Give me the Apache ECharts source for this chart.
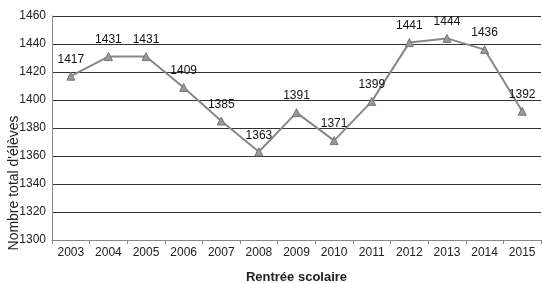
<!DOCTYPE html>
<html>
<head>
<meta charset="utf-8">
<script src="https://cdn.jsdelivr.net/npm/echarts@6/dist/echarts.min.js"></script>
<style>
  html, body { margin: 0; padding: 0; background: #fff; }
  #chart { width: 542px; height: 283px; }
</style>
</head>
<body>
<div id="chart"></div>
<script>
// Rentrée scolaire -> nombre total d'élèves
const years = ['2003', '2004', '2005', '2006', '2007', '2008', '2009', '2010', '2011', '2012', '2013', '2014', '2015']
const eleves = [1417, 1431, 1431, 1409, 1385, 1363, 1391, 1371, 1399, 1441, 1444, 1436, 1392]

const chart = echarts.init(document.getElementById('chart'))

chart.setOption({
  animation: false,
  textStyle: { fontFamily: 'Liberation Sans, Arial, sans-serif' },
  grid: { left: 52, right: 1, top: 16, bottom: 43, outerBoundsMode: 'none' },
  xAxis: {
    type: 'category',
    data: years,
    boundaryGap: true,
    name: 'Rentrée scolaire',
    nameLocation: 'middle',
    nameGap: 31,
    nameTextStyle: { fontSize: 13, fontWeight: 'bold', color: '#222' },
    axisLine: { lineStyle: { color: '#888' } },
    axisTick: { show: true, length: 4, lineStyle: { color: '#888' } },
    axisLabel: { fontSize: 12, color: '#222', margin: 7 },
  },
  yAxis: {
    type: 'value',
    min: 1300,
    max: 1460,
    interval: 20,
    name: "Nombre total d'élèves",
    nameLocation: 'middle',
    nameGap: 31,
    nameMoveOverlap: false,
    nameTextStyle: { fontSize: 14, color: '#222', padding: [0, 110, 0, 0] },
    axisLine: { show: true, lineStyle: { color: '#888' } },
    axisTick: { show: false },
    axisLabel: { fontSize: 12, color: '#222', margin: 6, formatter: v => String(v) },
    splitLine: { lineStyle: { color: '#333', width: 1 } },
  },
  series: [
    {
      type: 'line',
      data: eleves,
      symbol: 'triangle',
      symbolSize: 8,
      lineStyle: { color: '#888', width: 2 },
      itemStyle: { color: '#999', borderColor: '#777', borderWidth: 1 },
      label: {
        show: true,
        position: 'top',
        distance: 6,
        fontSize: 12,
        color: '#111',
      },
    },
  ],
})
</script>
</body>
</html>
